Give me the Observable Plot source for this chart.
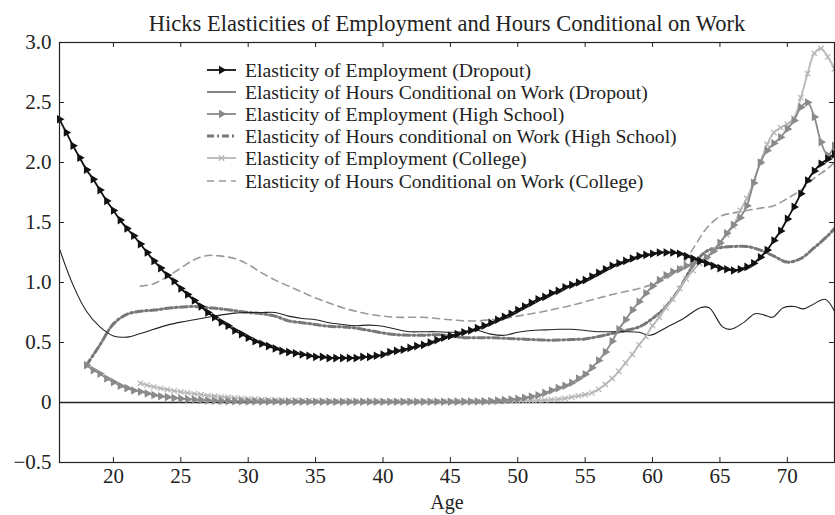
<!DOCTYPE html>
<html><head><meta charset="utf-8">
<script src="https://cdn.jsdelivr.net/npm/d3@7"></script>
<script src="https://cdn.jsdelivr.net/npm/@observablehq/plot@0.6"></script>
<style>
body{margin:0;background:#fff;}
#wrap{position:relative;width:835px;height:515px;}
#wrap svg{position:absolute;left:0;top:0;}
</style></head><body><div id="wrap"></div>
<script>
const titleText = "Hicks Elasticities of Employment and Hours Conditional on Work";
const xLabel = "Age";
const xTicks = [20, 25, 30, 35, 40, 45, 50, 55, 60, 65, 70];
const yTicks = [-0.5, 0, 0.5, 1.0, 1.5, 2.0, 2.5, 3.0];
const seriesNames = [
  "Elasticity of Employment (Dropout)",
  "Elasticity of Hours Conditional on Work (Dropout)",
  "Elasticity of Employment (High School)",
  "Elasticity of Hours conditional on Work (High School)",
  "Elasticity of Employment (College)",
  "Elasticity of Hours Conditional on Work (College)"
];

// Employment elasticities, half-year steps
const empDropoutStart = 16;
const empDropout = [
  2.36,2.25,2.14,2.04,1.94,1.86,1.77,1.68,1.60,1.52,
  1.45,1.39,1.32,1.25,1.18,1.12,1.06,1.01,0.95,0.90,
  0.85,0.80,0.75,0.71,0.67,0.64,0.60,0.57,0.54,0.51,
  0.49,0.47,0.45,0.43,0.42,0.41,0.40,0.39,0.38,0.38,
  0.37,0.37,0.37,0.37,0.37,0.38,0.38,0.39,0.40,0.42,
  0.43,0.44,0.455,0.47,0.48,0.50,0.52,0.54,0.555,0.57,
  0.585,0.60,0.62,0.64,0.665,0.69,0.715,0.74,0.77,0.80,
  0.83,0.86,0.88,0.91,0.93,0.96,0.98,1.00,1.02,1.05,
  1.08,1.11,1.14,1.16,1.18,1.20,1.22,1.23,1.24,1.25,
  1.25,1.25,1.24,1.22,1.20,1.18,1.16,1.14,1.12,1.11,
  1.10,1.11,1.13,1.16,1.21,1.27,1.35,1.43,1.53,1.63,
  1.74,1.85,1.93,1.99,2.03,2.07
];
const empHSStart = 18;
const empHS = [
  0.31,0.27,0.24,0.20,0.17,0.14,0.12,0.10,0.09,0.075,
  0.062,0.052,0.045,0.038,0.032,0.028,0.024,0.02,0.017,0.015,
  0.013,0.011,0.01,0.01,0.009,0.009,0.008,0.008,0.008,0.007,
  0.007,0.007,0.007,0.006,0.006,0.006,0.006,0.006,0.006,0.006,
  0.006,0.006,0.006,0.006,0.006,0.006,0.006,0.006,0.006,0.006,
  0.006,0.006,0.006,0.006,0.006,0.007,0.007,0.008,0.008,0.009,
  0.012,0.016,0.02,0.025,0.03,0.04,0.05,0.06,0.08,0.10,
  0.12,0.14,0.165,0.20,0.235,0.29,0.35,0.42,0.51,0.61,
  0.69,0.77,0.84,0.91,0.97,1.02,1.06,1.09,1.11,1.14,
  1.16,1.18,1.21,1.26,1.33,1.41,1.48,1.54,1.64,1.83,
  2.00,2.10,2.16,2.21,2.28,2.35,2.46,2.50,2.38,2.17,
  2.06,2.14
];
const empCollegeStart = 22;
const empCollege = [
  0.16,0.145,0.13,0.118,0.107,0.097,0.088,0.08,0.072,0.065,
  0.058,0.052,0.047,0.042,0.038,0.034,0.03,0.027,0.024,0.022,
  0.02,0.018,0.016,0.015,0.014,0.013,0.012,0.011,0.01,0.01,
  0.01,0.01,0.009,0.009,0.009,0.009,0.008,0.008,0.008,0.008,
  0.008,0.008,0.008,0.008,0.008,0.008,0.008,0.008,0.008,0.008,
  0.008,0.008,0.008,0.009,0.01,0.011,0.012,0.013,0.015,0.017,
  0.02,0.024,0.028,0.035,0.045,0.055,0.065,0.08,0.11,0.15,
  0.20,0.26,0.33,0.40,0.48,0.55,0.64,0.71,0.79,0.86,
  0.95,1.03,1.10,1.16,1.21,1.27,1.33,1.40,1.47,1.60,
  1.70,1.84,2.00,2.15,2.25,2.29,2.32,2.37,2.54,2.74,
  2.91,2.95,2.88,2.78
];

// Hours elasticities
const hoursDropoutAge = [16,17,18,19,20,21,22,23,24,25,26,27,28,29,30,31,32,33,34,35,36,37,38,39,40,41,42,43,44,45,46,47,48,49,50,51,52,53,54,55,56,57,58,59,
  59.8,61.1,62.3,63.55,64.2,65.2,65.8,66.8,67.6,68.25,68.9,69.7,70.5,71.2,71.8,72.8,73.5];
const hoursDropout = [1.28,0.98,0.76,0.63,0.555,0.545,0.575,0.61,0.645,0.67,0.69,0.71,0.73,0.745,0.75,0.75,0.75,0.72,0.70,0.69,0.665,0.65,0.64,0.645,0.635,0.61,0.59,0.59,0.59,0.585,0.59,0.60,0.57,0.56,0.585,0.60,0.605,0.61,0.61,0.60,0.59,0.59,0.59,0.585,
  0.56,0.63,0.70,0.79,0.79,0.63,0.61,0.67,0.74,0.73,0.71,0.79,0.80,0.78,0.81,0.86,0.76];

const hoursHSAge = [18,19,20,21,22,23,24,25,26,27,28,29,30,31,32,33,34,35,36,37,38,39,40,41,42,43,44,45,46,47,48,49,50,51,52,53,54,55,56,57,58,59,60,61,62,63,64,65,66,67,68,69,70,71,72,73,73.5];
const hoursHS = [0.31,0.48,0.655,0.735,0.76,0.77,0.785,0.795,0.80,0.79,0.78,0.765,0.75,0.74,0.72,0.68,0.665,0.65,0.635,0.63,0.62,0.60,0.58,0.565,0.56,0.56,0.565,0.555,0.54,0.54,0.54,0.535,0.53,0.525,0.52,0.52,0.525,0.53,0.55,0.575,0.60,0.63,0.70,0.80,0.95,1.14,1.26,1.29,1.30,1.30,1.27,1.22,1.17,1.20,1.29,1.39,1.45];

const hoursCollegeAge = [22,23,24,25,26,27,28,29,30,31,32,33,34,35,36,37,38,39,40,41,42,43,44,45,46,47,48,49,50,51,52,53,54,55,56,57,58,59,60,61,62,63,64,65,66,67,68,69,70,71,72,73,73.5];
const hoursCollege = [0.97,0.99,1.05,1.12,1.19,1.225,1.22,1.20,1.15,1.08,1.02,0.97,0.92,0.87,0.83,0.79,0.76,0.735,0.72,0.71,0.71,0.71,0.70,0.69,0.68,0.68,0.69,0.70,0.72,0.74,0.76,0.785,0.81,0.84,0.87,0.90,0.925,0.95,0.985,1.03,1.12,1.28,1.45,1.55,1.58,1.60,1.62,1.64,1.70,1.77,1.87,1.95,2.00];

const halfYear = (start, vals) => vals.map((v, i) => ({age: start + i * 0.5, v}));
const paired = (ages, vals) => vals.map((v, i) => ({age: ages[i], v}));

const dEmpDrop = halfYear(empDropoutStart, empDropout);
const dEmpHS = halfYear(empHSStart, empHS);
const dEmpCol = halfYear(empCollegeStart, empCollege);
const dHrsDrop = paired(hoursDropoutAge, hoursDropout);
const dHrsHS = paired(hoursHSAge, hoursHS);
const dHrsCol = paired(hoursCollegeAge, hoursCollege);

const sty = [
  {stroke: "#111", strokeWidth: 1.8},
  {stroke: "#222", strokeWidth: 1.1},
  {stroke: "#8a8a8a", strokeWidth: 1.8},
  {stroke: "#777", strokeWidth: 3, strokeDasharray: "7,3,2,3"},
  {stroke: "#bdbdbd", strokeWidth: 2},
  {stroke: "#999", strokeWidth: 1.6, strokeDasharray: "7,5"}
];
const triR = 3.2;
const fmt = d => d === 0 ? "0" : (d < 0 ? "\u2212" + Math.abs(d).toFixed(1) : d.toFixed(1));
const font = "'Liberation Serif', 'Times New Roman', serif";

const chart = Plot.plot({
  width: 835, height: 515,
  marginLeft: 59, marginRight: 1, marginTop: 42, marginBottom: 53,
  style: {fontFamily: font, fontSize: "21px", color: "#222", background: "white"},
  x: {domain: [16, 73.5]},
  y: {domain: [-0.5, 3]},
  marks: [
    Plot.ruleY([0], {stroke: "#222", strokeWidth: 1.4}),
    Plot.line(dHrsCol, {x: "age", y: "v", curve: "catmull-rom", ...sty[5]}),
    Plot.line(dHrsHS, {x: "age", y: "v", curve: "catmull-rom", ...sty[3]}),
    Plot.line(dHrsDrop, {x: "age", y: "v", curve: "catmull-rom", ...sty[1]}),
    Plot.line(dEmpCol, {x: "age", y: "v", curve: "catmull-rom", ...sty[4]}),
    Plot.dot(dEmpCol, {x: "age", y: "v", symbol: "times", r: 2.6, stroke: "#b5b5b5", strokeWidth: 1.2}),
    Plot.line(dEmpHS, {x: "age", y: "v", curve: "catmull-rom", ...sty[2]}),
    Plot.dot(dEmpHS, {x: "age", y: "v", symbol: "triangle", rotate: 90, r: triR, fill: "#8a8a8a"}),
    Plot.line(dEmpDrop, {x: "age", y: "v", curve: "catmull-rom", ...sty[0]}),
    Plot.dot(dEmpDrop, {x: "age", y: "v", symbol: "triangle", rotate: 90, r: triR, fill: "#111"}),
    Plot.frame({stroke: "#222", strokeWidth: 1.2}),
    Plot.tickX(xTicks, {x: d => d, insetTop: 415, stroke: "#222"}),
    Plot.tickX(xTicks, {x: d => d, insetBottom: 415, stroke: "#222"}),
    Plot.tickY(yTicks, {y: d => d, insetRight: 770, stroke: "#222"}),
    Plot.tickY(yTicks, {y: d => d, insetLeft: 770, stroke: "#222"}),
    Plot.axisX({ticks: xTicks, tickSize: 0, tickPadding: 6, label: null, fontSize: 21}),
    Plot.axisY({ticks: yTicks, tickSize: 0, tickPadding: 8, label: null, tickFormat: fmt, fontSize: 21}),
    Plot.text([titleText], {frameAnchor: "top", dy: -27, fontSize: 22.5, fill: "#222"}),
    Plot.text([xLabel], {frameAnchor: "bottom", dy: 46, fontSize: 20, fill: "#222"})
  ]
});
document.getElementById("wrap").appendChild(chart);

// Legend overlay
const legRows = [70, 92, 114, 136, 158, 181];
const leg = d3.select("#wrap").append("svg").attr("width", 835).attr("height", 515)
  .style("pointer-events", "none").attr("font-family", font);
seriesNames.forEach((name, i) => {
  const y = legRows[i];
  const s = sty[i];
  leg.append("line").attr("x1", 207).attr("x2", 236).attr("y1", y).attr("y2", y)
    .attr("stroke", s.stroke).attr("stroke-width", s.strokeWidth)
    .attr("stroke-dasharray", s.strokeDasharray || null);
  if (i === 0 || i === 2) {
    leg.append("path").attr("d", d3.symbol(d3.symbolTriangle, Math.PI * triR * triR)())
      .attr("transform", `translate(221.5,${y}) rotate(90)`)
      .attr("fill", i === 0 ? "#111" : "#8a8a8a");
  }
  if (i === 4) {
    leg.append("path").attr("d", d3.symbol(d3.symbolTimes, Math.PI * 2.6 * 2.6)())
      .attr("transform", `translate(221.5,${y})`)
      .attr("fill", "none").attr("stroke", "#b5b5b5").attr("stroke-width", 1.2);
  }
  leg.append("text").attr("x", 245).attr("y", y + 6.5).attr("font-size", 19.7)
    .attr("fill", "#222").text(name);
});
</script></body></html>
